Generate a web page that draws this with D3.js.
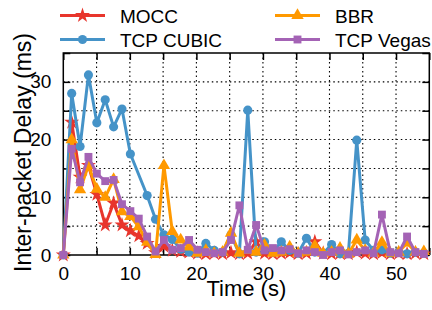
<!DOCTYPE html>
<html><head><meta charset="utf-8">
<script src="https://cdn.jsdelivr.net/npm/d3@7"></script>
<style>body{margin:0;background:#fff}svg{display:block}text{font-family:"Liberation Sans",Arial,Helvetica,sans-serif;fill:#000}</style>
</head><body><svg id="c" width="432" height="310"></svg>
<script>
const times = [0, 1.26, 2.52, 3.78, 5.04, 6.3, 7.56, 8.82, 10.08, 11.34, 12.6, 13.86, 15.12, 16.38, 17.64, 18.9, 20.16, 21.42, 22.68, 23.94, 25.2, 26.46, 27.72, 28.98, 30.24, 31.5, 32.76, 34.02, 35.28, 36.54, 37.8, 39.06, 40.32, 41.58, 42.84, 44.1, 45.36, 46.62, 47.88, 49.14, 50.4, 51.66, 52.92, 54.18];
const mocc  = [0, 23, 13.5, 15.5, 10.5, 5.2, 9, 5.2, 4.2, 3.3, 2.0, 0.4, 1.5, 0.8, 0.6, 0.5, 0.3, 0.2, 0.3, 0.2, 0.4, 0.2, 0.3, 2.3, 0.3, 0.2, 0.3, 0.4, 0.2, 0.3, 2.3, 0.3, 0.2, 0.3, 0.2, 0.5, 0.3, 0.2, 0.4, 0.2, 0.3, 0.2, 0.3, 0.2];
const cubic = [0, 28, 18.8, 31.2, 22.9, 26.9, 22.2, 25.3, 17.5, null, 10.3, 6.2, 3.5, 2.7, 1.0, 0.5, 0.3, 2.0, 0.8, 0.5, 3.5, 0.2, 25.1, 0.5, 2.3, 0.5, 2.3, 0.8, 0.3, 2.9, 0.5, 0.3, 1.8, 0.2, 0.3, 19.9, 2.6, 0.8, 0.9, 0.3, 0.5, 0.2, 0.5, 0.3];
const bbr   = [0, 20, 11.3, 15.5, 11.4, 10, 13.1, 7.5, 6.7, 4.9, 2.2, 0.1, 15.5, 4.1, 2.6, 1.4, 0.3, 0.8, 0.3, 0.5, 3.8, 0.3, 0.8, 0.5, 1.7, 0.3, 0.5, 1.4, 0.3, 0.5, 1.6, 0.3, 0.5, 1.2, 0.2, 2.6, 0.8, 0.3, 2.2, 0.3, 0.5, 2.1, 0.5, 0.6];
const vegas = [0, 18.4, 12.6, 17, 14.1, 12.8, 13, 8.8, 7.6, 6.3, 3.2, 0.6, 2.6, 0.9, 1.2, 2.6, 0.9, 0.5, 0.3, 0.5, 2.6, 8.6, 0.9, 5.2, 0.8, 1.2, 0.8, 1.0, 0.3, 0.8, 0.5, 0.0, 0.5, 0.8, 0.1, 0.5, 0.8, 0.3, 7.0, 0.5, 0.3, 3.2, 0.5, 0.2];
const seriesNames = ["MOCC", "TCP CUBIC", "BBR", "TCP Vegas"];
const xTicks = [0, 10, 20, 30, 40, 50];
const yTicks = [0, 10, 20, 30];
const xLabel = "Time (s)";
const yLabel = "Inter-packet Delay (ms)";

const series = [
  {name: seriesNames[0], values: mocc,  color: "#e8352c", sym: d3.symbolStar,     size: 70},
  {name: seriesNames[1], values: cubic, color: "#4593c8", sym: d3.symbolCircle,   size: 66},
  {name: seriesNames[2], values: bbr,   color: "#ff9900", sym: d3.symbolTriangle, size: 66},
  {name: seriesNames[3], values: vegas, color: "#a463b5", sym: d3.symbolSquare,   size: 62}
];

const svg = d3.select("#c");
const L = 63.3, R = 429.3, T = 53, B = 255;
const x = d3.scaleLinear().domain([0, 55]).range([L, R]);
const y = d3.scaleLinear().domain([0, 35]).range([B, T]);
const minor = d3.range(5, 55, 5);
const yMinor = d3.range(5, 35, 5);

// grid
const g = svg.append("g");
g.selectAll(".vg").data(minor).join("line")
  .attr("x1", d => x(d)).attr("x2", d => x(d)).attr("y1", T).attr("y2", B)
  .attr("stroke", "#000").attr("stroke-width", 1.1).attr("stroke-dasharray", "1.5,3");
g.selectAll(".hg").data(yMinor).join("line")
  .attr("y1", d => y(d)).attr("y2", d => y(d)).attr("x1", L).attr("x2", R)
  .attr("stroke", "#000").attr("stroke-width", 1.1).attr("stroke-dasharray", "1.5,3");

// axes with inward ticks
const allX = d3.range(0, 56, 5), allY = d3.range(0, 36, 5);
const axB = d3.axisBottom(x).tickValues(allX).tickSize(-7).tickPadding(12)
  .tickFormat(d => xTicks.includes(d) ? d : "");
const axT = d3.axisTop(x).tickValues(allX).tickSize(-7).tickFormat("");
const axL = d3.axisLeft(y).tickValues(allY).tickSize(-7).tickPadding(12)
  .tickFormat(d => yTicks.includes(d) ? d : "");
const axR = d3.axisRight(y).tickValues(allY).tickSize(-7).tickFormat("");
function style(sel){ sel.select(".domain").remove(); sel.selectAll("line").attr("stroke","#000").attr("stroke-width",1.5);
  sel.selectAll("text").style("font-size","19px").attr("fill","#000"); }
svg.append("g").attr("transform", `translate(0,${B})`).call(axB).call(style);
svg.append("g").attr("transform", `translate(0,${T})`).call(axT).call(style);
svg.append("g").attr("transform", `translate(${L},0)`).call(axL).call(style);
svg.append("g").attr("transform", `translate(${R},0)`).call(axR).call(style);
svg.append("rect").attr("x", L).attr("y", T).attr("width", R - L).attr("height", B - T)
  .attr("fill", "none").attr("stroke", "#000").attr("stroke-width", 1.5);

// series
const line = d3.line().x(d => x(d[0])).y(d => y(d[1]));
series.forEach(s => {
  const pts = times.map((t, i) => [t, s.values[i]]).filter(p => p[1] !== null);
  const gg = svg.append("g");
  gg.append("path").attr("d", line(pts)).attr("fill", "none").attr("stroke", s.color)
    .attr("stroke-width", 3).attr("stroke-linejoin", "round");
  gg.selectAll("path.m").data(pts).join("path").attr("class", "m")
    .attr("transform", d => `translate(${x(d[0])},${y(d[1])})`)
    .attr("d", d3.symbol().type(s.sym).size(s.size)).attr("fill", s.color);
});

// axis titles
svg.append("text").attr("x", (L + R) / 2).attr("y", 296).attr("text-anchor", "middle")
  .style("font-size", "22px").text(xLabel);
svg.append("text").attr("transform", `translate(31,152.5) rotate(-90)`)
  .attr("text-anchor", "middle").style("font-size", "23px").text(yLabel);

// legend
const leg = [[60, 15.5], [60, 39.5], [275, 15.5], [275, 39.5]];
series.forEach((s, i) => {
  const [lx, ly] = leg[i];
  svg.append("line").attr("x1", lx).attr("x2", lx + 45).attr("y1", ly).attr("y2", ly)
    .attr("stroke", s.color).attr("stroke-width", 3);
  svg.append("path").attr("transform", `translate(${lx + 22.5},${ly})`)
    .attr("d", d3.symbol().type(s.sym).size(s.size)).attr("fill", s.color);
  svg.append("text").attr("x", lx + 60).attr("y", ly + 7).style("font-size", "19px").text(s.name);
});
</script></body></html>
